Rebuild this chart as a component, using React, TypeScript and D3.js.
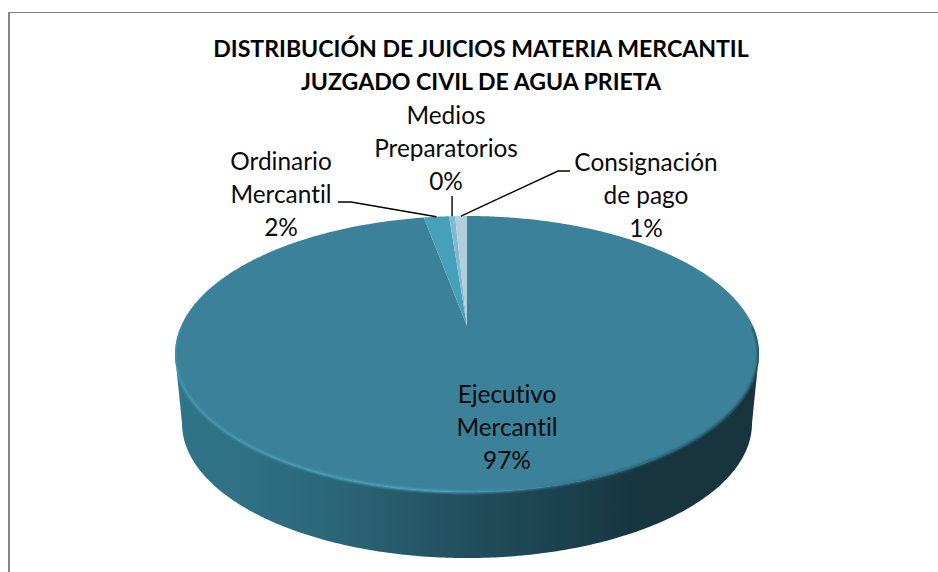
import React from "react";
import * as d3 from "d3";

const titleLines = ["DISTRIBUCIÓN DE JUICIOS MATERIA MERCANTIL", "JUZGADO CIVIL DE AGUA PRIETA"];
const categories = ["Ejecutivo Mercantil", "Ordinario Mercantil", "Medios Preparatorios", "Consignación de pago"];
const values = [97.1, 1.7, 0.4, 0.8];
const percentLabels = ["97%", "2%", "0%", "1%"];
const sliceColors = ["#3a8199", "#46a0b9", "#7fbad0", "#b0cfdd"];

const W = 938;
const H = 572;
const apexX = 467;
const apexY = 326;
const halfWidth = 292;
const farDepth = 110;
const nearDepth = 166;
const persp = (nearDepth - farDepth) / (nearDepth + farDepth);
const yScaleK = farDepth * (1 + persp);
const xScaleK = halfWidth * Math.sqrt(1 - persp * persp);
const baseScale = 285 / 292;
const baseOffset = 70;

type P = [number, number];
const project = (theta: number, rho = 1, scale = 1, offset = 0): P => {
  const u = rho * Math.sin(theta);
  const v = rho * Math.cos(theta);
  const d = 1 + persp * v;
  return [apexX + (scale * xScaleK * u) / d, apexY + offset - (scale * yScaleK * v) / d];
};

const pie = d3.pie<number>().sort(null).value((d) => d);
const arcs = pie(values);
const line = d3.line<P>();

const slicePath = (startAngle: number, endAngle: number) => {
  const n = Math.max(2, Math.ceil((endAngle - startAngle) / 0.01));
  const pts: P[] = [project(0, 0)];
  d3.range(n + 1).forEach((i) => pts.push(project(startAngle + ((endAngle - startAngle) * i) / n)));
  return line(pts) + "Z";
};

const sideAngle = Math.acos(-persp);
const frontStart = sideAngle; // right silhouette
const frontEnd = 2 * Math.PI - sideAngle; // left silhouette
const steps = d3.range(0, 241).map((i) => frontStart + ((frontEnd - frontStart) * i) / 240);
const topRim = steps.map((t) => project(t));
const bottomRim = steps.map((t) => project(t, 1, baseScale, baseOffset)).reverse();
const wallPath = line([...topRim, ...bottomRim]) + "Z";
const rimPath = line(d3.range(0, 301).map((i) => project(frontStart - 0.2 + ((frontEnd - frontStart + 0.4) * i) / 300)));

const rimAt = (i: number) => project((arcs[i].startAngle + arcs[i].endAngle) / 2);

const labels = [
  { i: 0, lines: ["Ejecutivo", "Mercantil", percentLabels[0]], x: 507, y: 403 },
  { i: 1, lines: ["Ordinario", "Mercantil", percentLabels[1]], x: 281, y: 170 },
  { i: 2, lines: ["Medios", "Preparatorios", percentLabels[2]], x: 446, y: 124 },
  { i: 3, lines: ["Consignación", "de pago", percentLabels[3]], x: 646, y: 171 },
];
const leaderElbows: { i: number; pts: P[] }[] = [
  { i: 1, pts: [[338, 202], [351, 202]] },
  { i: 2, pts: [[rimAt(2)[0], 196]] },
  { i: 3, pts: [[570, 171], [558, 171]] },
];

export default function App() {
  return (
    <svg
      width={W}
      height={H}
      viewBox={`0 0 ${W} ${H}`}
      style={{ position: "absolute", left: 0, top: 0, display: "block", background: "#fff", fontVariantLigatures: "none" }}
      fontFamily="Lato, Carlito, sans-serif"
      data-categories={categories.join("|")}
    >
      <defs>
        <linearGradient id="wall" gradientUnits="userSpaceOnUse" x1={175} x2={759} y1={0} y2={0}>
          <stop offset="0" stopColor="#307488" />
          <stop offset="0.14" stopColor="#2f6f83" />
          <stop offset="0.3" stopColor="#2a6375" />
          <stop offset="0.5" stopColor="#214f5d" />
          <stop offset="0.68" stopColor="#1b3f4c" />
          <stop offset="0.8" stopColor="#17343f" />
          <stop offset="1" stopColor="#17343f" />
        </linearGradient>
        <linearGradient id="rim" gradientUnits="userSpaceOnUse" x1={175} x2={759} y1={0} y2={0}>
          <stop offset="0" stopColor="#3f98b1" />
          <stop offset="0.45" stopColor="#4ba6bf" />
          <stop offset="0.62" stopColor="#3a8199" />
          <stop offset="0.8" stopColor="#25586a" />
          <stop offset="1" stopColor="#1a3a47" />
        </linearGradient>
        <filter id="soft" x="-5%" y="-5%" width="110%" height="110%">
          <feGaussianBlur stdDeviation="0.9" />
        </filter>
        <clipPath id="body">
          {arcs.map((a, i) => (
            <path key={i} d={slicePath(a.startAngle, a.endAngle)} />
          ))}
          <path d={wallPath} />
        </clipPath>
      </defs>

      <line x1={9} x2={W} y1={12.5} y2={12.5} stroke="#868686" strokeWidth={1} />
      <line x1={9} x2={9} y1={12} y2={H} stroke="#868686" strokeWidth={2} />

      {titleLines.map((t, i) => (
        <text key={t} x={481} y={57 + i * 33} textAnchor="middle" fontWeight={700} fontSize={23.1} fill="#000">
          {t}
        </text>
      ))}

      <path d={wallPath} fill="url(#wall)" />
      {arcs.map((a, i) => (
        <path key={i} d={slicePath(a.startAngle, a.endAngle)} fill={sliceColors[i]} />
      ))}
      <g clipPath="url(#body)">
        <path d={rimPath ?? ""} fill="none" stroke="url(#rim)" strokeWidth={2.5} filter="url(#soft)" />
      </g>

      {leaderElbows.map(({ i, pts }) => (
        <path key={i} d={line([...pts, rimAt(i)]) ?? ""} fill="none" stroke="#000" strokeWidth={1.4} />
      ))}

      {labels.map((l) =>
        l.lines.map((s, k) => (
          <text key={s + k} x={l.x} y={l.y + k * 32.8} textAnchor="middle" fontSize={24.4} fill="#0a0a0a">
            {s}
          </text>
        ))
      )}
    </svg>
  );
}
